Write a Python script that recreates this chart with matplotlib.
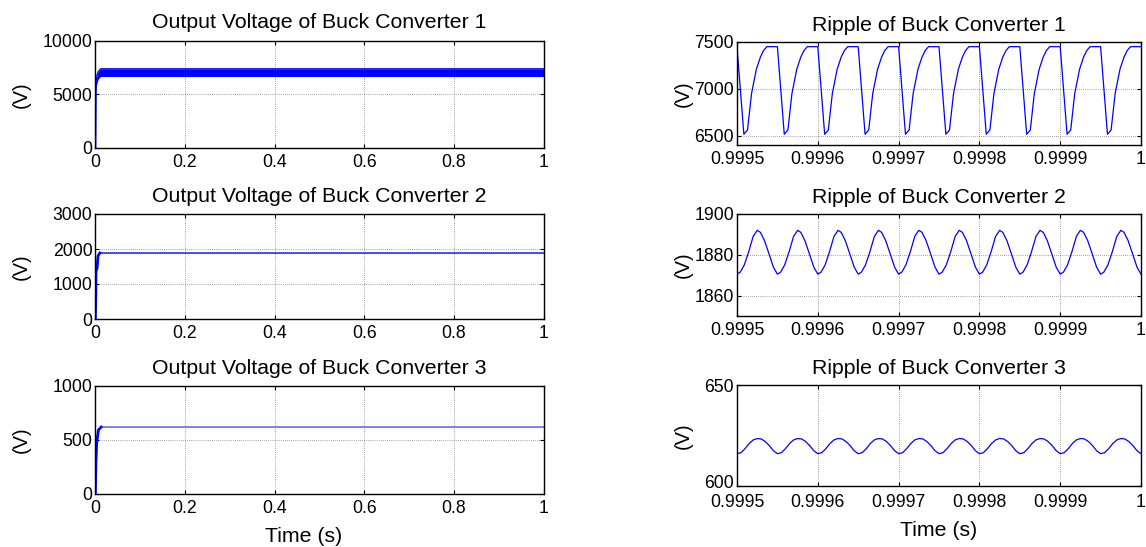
import numpy as np
import matplotlib
matplotlib.use("Agg")
import matplotlib.pyplot as plt
import matplotlib.transforms as mtransforms

plt.rcParams['font.family'] = ['Liberation Sans', 'DejaVu Sans']

# ---------------- data ----------------
titles_left = ["Output Voltage of Buck Converter 1",
               "Output Voltage of Buck Converter 2",
               "Output Voltage of Buck Converter 3"]
titles_right = ["Ripple of Buck Converter 1",
                "Ripple of Buck Converter 2",
                "Ripple of Buck Converter 3"]

# Converter 1: start-up and ripple band envelope (s, V)
c1_t = [0.0, 0.0005, 0.002, 0.004, 0.007, 0.012, 1.0]
c1_upper = [0, 5200, 6300, 6800, 7150, 7400, 7400]
c1_lower = [0, 4800, 5800, 6200, 6500, 6700, 6700]

# Converter 2 start-up (s, V)
c2_t = [0.0, 0.0012, 0.0015, 0.002, 0.004, 0.006, 0.010, 1.0]
c2_v = [0, 700, 1300, 1400, 1450, 1800, 1885, 1885]

# Converter 3 start-up (s, V)
c3_t = [0.0, 0.0012, 0.0015, 0.003, 0.007, 0.013, 1.0]
c3_v = [0, 250, 300, 470, 593, 620, 620]

# Ripple: one switching period (50 us) read from the zoomed window, repeated 10 times
r1_dt_us = [0, 8.5, 13, 18, 24, 29, 33, 37]
r1_v = [7450, 6515, 6560, 6950, 7210, 7340, 7410, 7450]
r2_dt_us = [0, 4, 9, 14.5, 20, 25, 29, 34, 40, 45]
r2_v = [1870.5, 1871.5, 1875, 1881.5, 1889, 1892, 1891, 1887, 1880, 1874]
r3_dt_us = [0, 5, 10, 15, 20, 25, 30, 35, 40, 45]
r3_v = [616, 616.5, 618.5, 621, 622.8, 623.5, 623.3, 622, 620, 617.5]
n_periods = 10
period_us = 50.0
t_start = 0.9995

left_xticks = [0, 0.2, 0.4, 0.6, 0.8, 1]
left_xticklabels = ["0", "0.2", "0.4", "0.6", "0.8", "1"]
right_xticks = [0.9995, 0.9996, 0.9997, 0.9998, 0.9999, 1.0]
right_xticklabels = ["0.9995", "0.9996", "0.9997", "0.9998", "0.9999", "1"]

left_yticks = [[0, 5000, 10000], [0, 1000, 2000, 3000], [0, 500, 1000]]
left_ylims = [(0, 10000), (0, 3000), (0, 1000)]
right_yticks = [[6500, 7000, 7500], [1860, 1880, 1900], [600, 650]]
right_ylims = [(6400, 7500), (1850, 1900), (600, 650)]


def periodic(dt_us, vals):
    t = []
    v = []
    for k in range(n_periods):
        for d, y in zip(dt_us, vals):
            t.append(t_start + (k * period_us + d) * 1e-6)
            v.append(y)
    t.append(t_start + n_periods * period_us * 1e-6)
    v.append(vals[0])
    return np.array(t), np.array(v)


# ---------------- figure ----------------
W, H = 1146, 547
fig = plt.figure(figsize=(W / 100, H / 100), dpi=100)

def frac(x0, top, x1, bottom):
    return [x0 / W, (H - bottom) / H, (x1 - x0) / W, (bottom - top) / H]

left_pos = [frac(95.3, 41, 543.5, 148), frac(95.3, 214, 543.5, 319), frac(95.3, 386, 543.5, 494)]
right_pos = [frac(737, 42, 1141, 145), frac(737, 214, 1141, 316), frac(737, 385, 1141, 486)]

FS_TICK = 12.7
FS_TITLE = 15.3
FS_LABEL = 14.5
blue = (0, 0, 1)

def style(ax):
    ax.grid(True, color='black', linestyle=(0, (1, 2)), linewidth=0.5, alpha=0.7)
    ax.tick_params(direction='in', length=3, width=0.8, top=True, right=True,
                   labelsize=FS_TICK, pad=2, colors='black')
    ax.tick_params(axis='x', pad=4)
    for s in ax.spines.values():
        s.set_linewidth(1.0)
        s.set_color('black')

axes_left = [fig.add_axes(p) for p in left_pos]
axes_right = [fig.add_axes(p) for p in right_pos]

# Left plots
ax = axes_left[0]
ax.fill_between(c1_t, c1_lower, c1_upper, color=blue, linewidth=0)
ax.plot(c1_t, c1_upper, color=blue, lw=1)
ax.plot(c1_t, c1_lower, color=blue, lw=1)
ax.plot([0, 0.0005], [0, 5000], color=blue, lw=1.5)

ax = axes_left[1]
ax.plot(c2_t, c2_v, color=blue, lw=1)
ax.plot(c2_t[:7], c2_v[:7], color=blue, lw=2)

ax = axes_left[2]
ax.plot(c3_t, c3_v, color=(0.45, 0.45, 1), lw=1.3)
ax.plot(c3_t[:6], c3_v[:6], color=blue, lw=2)

for i, ax in enumerate(axes_left):
    ax.set_xlim(0, 1)
    ax.set_ylim(*left_ylims[i])
    ax.set_xticks(left_xticks)
    ax.set_xticklabels(left_xticklabels)
    ax.set_yticks(left_yticks[i])
    ax.set_yticklabels([str(v) for v in left_yticks[i]])
    style(ax)
    ax.set_title(titles_left[i], fontsize=FS_TITLE, pad=9)
    ax.set_ylabel("(V)", fontsize=FS_LABEL)
    ax.yaxis.set_label_coords(-0.145, 0.5)

# Right plots
ripples = [periodic(r1_dt_us, r1_v), periodic(r2_dt_us, r2_v), periodic(r3_dt_us, r3_v)]
for i, ax in enumerate(axes_right):
    t, v = ripples[i]
    ax.plot(t, v, color=blue, lw=0.9)
    ax.set_xlim(0.9995, 1.0)
    ax.set_ylim(*right_ylims[i])
    ax.set_xticks(right_xticks)
    ax.set_xticklabels(right_xticklabels)
    ax.set_yticks(right_yticks[i])
    ax.set_yticklabels([str(v) for v in right_yticks[i]])
    style(ax)
    ax.set_title(titles_right[i], fontsize=FS_TITLE, pad=8)
    ax.set_ylabel("(V)", fontsize=FS_LABEL)
    ax.yaxis.set_label_coords(-0.11, 0.5)

# keep the lowest y label of the bottom-right panel clear of the x labels
axr = axes_right[2]
axr.tick_params(axis='x', pad=6)
lowest = axr.get_yticklabels()[0]
lowest.set_transform(lowest.get_transform() +
                     mtransforms.ScaledTranslation(0, 4 / 100, fig.dpi_scale_trans))

axes_left[2].set_xlabel("Time (s)", fontsize=FS_TITLE)
axes_left[2].xaxis.set_label_coords(0.465, -0.31)
axes_right[2].set_xlabel("Time (s)", fontsize=FS_TITLE)
axes_right[2].xaxis.set_label_coords(0.5, -0.35)

fig.savefig("out.png", dpi=100)
